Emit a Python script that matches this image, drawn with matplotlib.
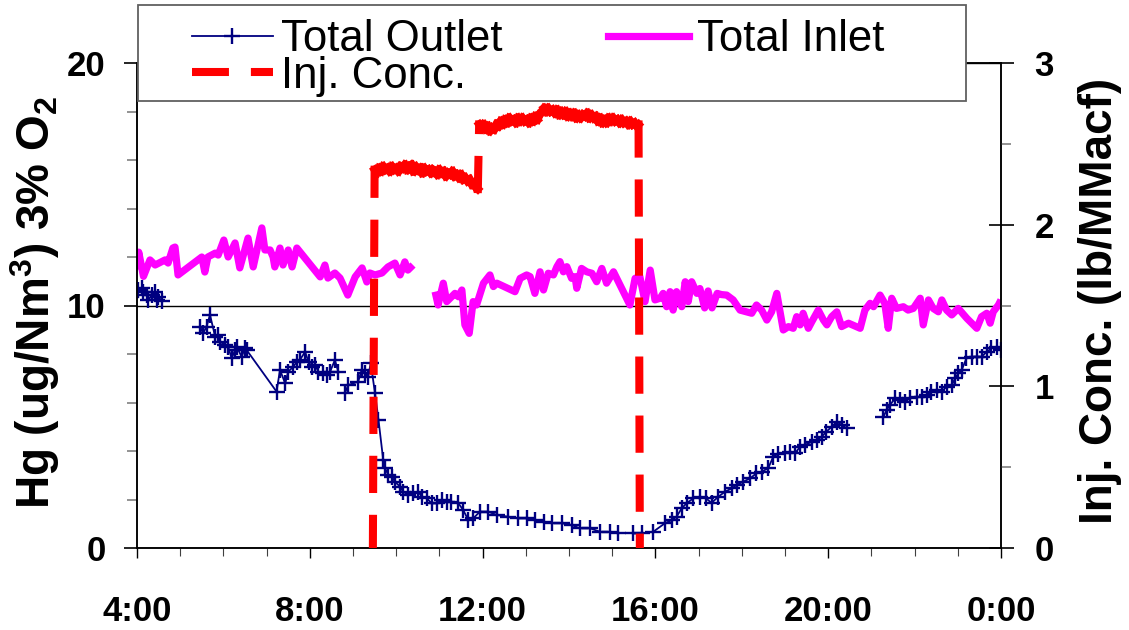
import numpy as np
import matplotlib
matplotlib.use("Agg")
import matplotlib.pyplot as plt
from matplotlib.collections import LineCollection
from matplotlib.lines import Line2D
from matplotlib.patches import Rectangle
from matplotlib.ticker import MultipleLocator

plt.rcParams['font.family'] = ['Liberation Sans', 'DejaVu Sans']
plt.rcParams['mathtext.fontset'] = 'custom'
plt.rcParams['mathtext.rm'] = 'Liberation Sans:bold'
plt.rcParams['mathtext.default'] = 'rm'
plt.rcParams['lines.scale_dashes'] = False

nan = float('nan')

# ---------------- data (hours since midnight; 24 = 0:00 next day) ----------------
x_ticks = [4, 8, 12, 16, 20, 24]
x_tick_labels = ['4:00', '8:00', '12:00', '16:00', '20:00', '0:00']

outlet_hours = [4.00, 4.03, 4.11, 4.15, 4.22, 4.26, 4.34, 4.42, 4.46, 4.49, 4.57, nan,
                5.46, 5.53, 5.61, 5.69, 5.81, 5.88, 5.92, 6.04, 6.11, 6.19, 6.27, 6.31, 6.42, 6.50, 6.54,
                7.23, 7.31, 7.43, 7.50, 7.62, 7.70, 7.77, 7.89, 7.97, 8.04, 8.12, 8.20, 8.31, 8.39, 8.47,
                8.58, 8.66, nan,
                8.81, 8.89, 9.12, 9.20, 9.28, 9.35, 9.41, 9.51, 9.59, 9.70, 9.74, 9.82, 9.90, 9.97, 10.09,
                10.16, 10.28, 10.40, 10.51, 10.59, 10.71, 10.82, 10.94, 11.05, 11.17, 11.28, 11.44, 11.55,
                11.67, 11.78, 11.94, 12.13, 12.33, 12.59, 12.83, 13.02, 13.21, 13.41, 13.60, 13.83, 14.06,
                14.25, 14.49, 14.72, 14.95, 15.14, nan,
                15.49, 15.68, 15.95, 16.22, 16.38, 16.49, 16.61, 16.72, 16.88, 17.03, 17.17, 17.30, 17.46,
                17.61, 17.77, 17.88, 18.03, 18.19, 18.34, 18.46, 18.61, 18.73, 18.84, 19.00, 19.11, 19.23,
                19.35, 19.46, 19.62, 19.73, 19.85, 19.96, 20.08, 20.20, 20.31, 20.43, nan,
                21.28, 21.35, 21.43, 21.55, 21.66, 21.78, 21.89, 22.05, 22.16, 22.28, 22.39, 22.51, 22.63,
                22.74, 22.86, 22.94, 23.01, 23.09, 23.20, 23.32, 23.44, 23.55, 23.67, 23.78, 23.90, 24.00]
outlet_values = [10.60, 10.64, 10.71, 10.57, 10.43, 10.23, 10.43, 10.57, 10.23, 10.36, 10.20, nan,
                 9.13, 8.85, 9.13, 9.61, 8.71, 8.78, 8.51, 8.37, 8.30, 7.82, 8.16, 8.30, 7.89, 8.23, 8.16,
                 6.45, 7.34, 6.79, 7.27, 7.48, 7.68, 7.75, 8.09, 7.68, 7.48, 7.55, 7.27, 7.20, 7.13, 7.27,
                 7.75, 7.27, nan,
                 6.38, 6.72, 6.86, 7.34, 7.20, 7.06, 7.62, 6.38, 5.28, 3.63, 3.29, 3.01, 2.94, 2.73, 2.53,
                 2.32, 2.19, 2.26, 2.32, 2.12, 2.05, 1.84, 1.84, 1.98, 1.91, 1.91, 1.84, 1.57,
                 1.15, 1.22, 1.50, 1.50, 1.36, 1.29, 1.22, 1.22, 1.15, 1.08, 1.02, 1.02, 0.95,
                 0.81, 0.81, 0.67, 0.67, 0.60, nan,
                 0.60, 0.60, 0.67, 1.02, 1.15, 1.29, 1.64, 1.84, 2.05, 2.10, 2.05, 1.86, 2.12,
                 2.32, 2.46, 2.60, 2.73, 2.87, 3.08, 3.15, 3.29, 3.77, 3.88, 3.93, 3.97, 3.90,
                 4.18, 4.25, 4.38, 4.45, 4.59, 4.80, 5.00, 5.21, 5.07, 4.94, nan,
                 5.41, 5.69, 5.90, 6.17, 6.10, 6.03, 6.17, 6.24, 6.24, 6.31, 6.45, 6.52, 6.45,
                 6.65, 6.72, 7.00, 7.20, 7.34, 7.82, 7.89, 7.89, 7.89, 8.09, 8.23, 8.30, 8.16]

inlet_hours = [4.00, 4.04, 4.15, 4.30, 4.42, 4.65, 4.72, 4.83, 4.88, 4.95, 5.50, 5.57, 5.64, 5.81, 5.88,
               6.01, 6.11, 6.27, 6.38, 6.57, 6.69, 6.89, 6.96, 7.08, 7.15, 7.19, 7.31, 7.38, 7.50, 7.59,
               7.70, 8.24, 8.35, 8.42, 8.58, 8.70, 8.88, 9.05, 9.21, 9.32, 9.39, 9.51, 9.67, 9.81, 9.97,
               10.09, 10.20, 10.27, 10.39, nan,
               10.90, 10.97, 11.09, 11.17, 11.36, 11.44, 11.52, 11.59, 11.69, 11.78, 11.86, 12.02, 12.17,
               12.25, 12.33, 12.75, 12.87, 13.02, 13.10, 13.21, 13.33, 13.41, 13.52, 13.64, 13.72, 13.79,
               13.87, 13.95, 14.06, 14.14, 14.18, 14.29, 14.41, 14.53, 14.64, 14.76, 14.87, 15.03, 15.41,
               15.53, 15.64, 15.76, 15.88, 15.99, 16.11, 16.18, 16.26, 16.34, 16.41, 16.49, 16.61, 16.69,
               16.76, 16.84, 16.96, 17.03, 17.14, 17.22, 17.31, 17.43, 17.53, 17.65, 17.80, 17.96, 18.11,
               18.23, 18.34, 18.46, 18.58, 18.69, 18.81, 18.96, 19.08, 19.19, 19.27, 19.35, 19.42, 19.54,
               19.62, 19.77, 19.89, 19.97, 20.08, 20.20, 20.31, 20.47, 20.74, 20.85, 20.97, 21.05, 21.20,
               21.31, 21.39, 21.47, 21.58, 21.74, 21.85, 21.97, 22.13, 22.20, 22.32, 22.43, 22.55, 22.63,
               22.74, 22.86, 23.01, 23.21, 23.44, 23.55, 23.67, 23.75, 23.82, 23.94, 24.00]
inlet_values = [11.50, 12.20, 11.20, 11.88, 11.67, 11.88, 11.75, 12.37, 12.41, 11.26, 12.00, 11.38, 12.00, 12.16, 12.08,
                12.70, 12.00, 12.58, 11.55, 12.78, 11.59, 13.20, 12.29, 12.29, 12.00, 11.59, 12.37, 11.67, 12.29, 11.59,
                12.37, 11.18, 11.67, 11.13, 11.34, 11.13, 10.43, 11.18, 11.55, 10.97, 11.34, 11.26, 11.34, 11.59, 11.75,
                11.26, 11.80, 11.46, 11.67, nan,
                10.57, 10.02, 10.92, 10.16, 10.50, 10.36, 10.64, 9.20, 8.85, 10.16, 10.02, 10.92, 11.26,
                10.78, 10.92, 10.57, 11.12, 11.26, 11.19, 10.50, 11.39, 10.64, 11.33, 11.26, 11.60, 11.81,
                11.39, 11.60, 11.12, 11.19, 10.71, 11.53, 11.39, 11.33, 10.98, 11.53, 10.92, 11.39, 10.02,
                11.12, 11.19, 10.16, 11.46, 10.23, 10.30, 10.50, 9.95, 10.57, 9.81, 10.57, 9.95, 10.98,
                10.16, 10.98, 10.50, 10.70, 9.90, 10.60, 9.90, 10.50, 10.45, 10.43, 10.23, 9.81, 9.74,
                9.68, 10.02, 9.81, 9.40, 9.74, 10.50, 8.99, 9.13, 9.06, 9.54, 9.20, 9.68, 9.06,
                9.33, 9.81, 9.40, 9.20, 9.54, 9.74, 9.13, 9.27, 9.06, 9.81, 10.09, 9.95, 10.43,
                10.09, 9.06, 10.30, 9.88, 9.95, 9.81, 9.88, 10.30, 9.20, 10.23, 9.88, 9.74, 10.23,
                9.81, 9.61, 9.88, 9.47, 9.06, 9.54, 9.68, 9.27, 9.74, 10.02, 10.23]

inj_hours = [9.46,
             9.50, 9.55, 9.60, 9.65, 9.70, 9.75, 9.80, 9.85, 9.90, 9.95, 10.00, 10.05, 10.10, 10.15,
             10.20, 10.25, 10.30, 10.35, 10.40, 10.45, 10.50, 10.55, 10.60, 10.65, 10.70, 10.75, 10.80,
             10.85, 10.90, 10.95, 11.00, 11.05, 11.10, 11.15, 11.20, 11.25, 11.30, 11.35, 11.40, 11.45,
             11.50, 11.55, 11.60, 11.65, 11.70, 11.75, 11.80, 11.85, 11.89,
             11.92, 11.97, 12.02, 12.07, 12.12, 12.17, 12.22, 12.27, 12.32, 12.37, 12.42, 12.47, 12.52,
             12.57, 12.62, 12.67, 12.72, 12.77, 12.82, 12.87, 12.92, 12.97, 13.02, 13.07, 13.12, 13.17,
             13.22, 13.27, 13.32, 13.37, 13.42, 13.47, 13.52, 13.57, 13.62, 13.67, 13.72, 13.77, 13.82,
             13.87, 13.92, 13.97, 14.02, 14.07, 14.12, 14.17, 14.22, 14.27, 14.32, 14.37, 14.42, 14.47,
             14.52, 14.57, 14.62, 14.67, 14.72, 14.77, 14.82, 14.87, 14.92, 14.97, 15.02, 15.07, 15.12,
             15.17, 15.22, 15.27, 15.32, 15.37, 15.42, 15.47, 15.52, 15.57, 15.61, 15.64]
inj_values = [0.0,
              2.34, 2.32, 2.35, 2.33, 2.36, 2.34, 2.35, 2.33, 2.36, 2.34, 2.35, 2.33, 2.36, 2.35,
              2.37, 2.34, 2.36, 2.37, 2.33, 2.36, 2.34, 2.35, 2.32, 2.35, 2.33, 2.34, 2.32,
              2.34, 2.33, 2.31, 2.34, 2.32, 2.33, 2.30, 2.32, 2.31, 2.33, 2.30, 2.31, 2.29,
              2.31, 2.28, 2.29, 2.27, 2.28, 2.25, 2.26, 2.23, 2.22,
              2.62, 2.60, 2.62, 2.59, 2.61, 2.58, 2.60, 2.59, 2.62, 2.61, 2.64, 2.62, 2.65,
              2.63, 2.66, 2.64, 2.65, 2.63, 2.66, 2.64, 2.66, 2.64, 2.65, 2.63, 2.66, 2.64,
              2.67, 2.65, 2.68, 2.70, 2.72, 2.70, 2.72, 2.70, 2.71, 2.69, 2.71, 2.68, 2.70,
              2.68, 2.70, 2.67, 2.69, 2.67, 2.69, 2.66, 2.68, 2.66, 2.68, 2.67, 2.69, 2.66,
              2.68, 2.66, 2.67, 2.64, 2.66, 2.63, 2.65, 2.63, 2.66, 2.64, 2.66, 2.64, 2.65,
              2.63, 2.65, 2.63, 2.64, 2.62, 2.64, 2.62, 2.63, 2.61, 2.62, 0.0]

# ---------------- figure ----------------
W, H = 1129, 630
fig = plt.figure(figsize=(W / 100, H / 100), dpi=100)
ax = fig.add_axes([137 / W, 82 / H, 864 / W, 485 / H])
ax2 = ax.twinx()

tick_font = dict(family=['Liberation Sans', 'DejaVu Sans'], weight='bold', size=25)

# Total Outlet
ax.plot(outlet_hours, outlet_values, color='#000080', lw=1.3, marker='+',
        markersize=12, markeredgewidth=1.7, zorder=3)
# Total Inlet
ax.plot(inlet_hours, inlet_values, color='#FF00FF', lw=5.2, solid_joinstyle='round',
        solid_capstyle='butt', zorder=2)

ax.set_xlim(4, 24)
ax.set_ylim(0, 20)
ax.set_xticks(x_ticks)
ax.set_xticklabels(x_tick_labels, fontdict=tick_font)
ax.xaxis.set_minor_locator(MultipleLocator(1))
ax.set_yticks([0, 10, 20])
ax.set_yticklabels(['0', '10', '20'], fontdict=tick_font)
ax.yaxis.set_minor_locator(MultipleLocator(2))
ax.yaxis.grid(True, which='major', color='black', lw=1.0)
ax.tick_params(axis='x', which='major', direction='out', length=7.5, width=1, pad=26)
ax.tick_params(axis='x', which='minor', direction='out', length=6, width=0.8, color='#404040')
ax.tick_params(axis='y', which='major', direction='out', length=9.5, width=1.2, pad=13)
ax.tick_params(axis='y', which='minor', direction='out', length=7, width=1.2, color='#808080')

# Inj. Conc. on secondary axis (dashes restart per segment, like the source)
pts = np.column_stack([inj_hours, inj_values])
segs = np.stack([pts[:-1], pts[1:]], axis=1)
lc = LineCollection(segs, colors='#FF0000', linewidths=5.8,
                    linestyles=[(0, (21.0, 21.5))], capstyle='projecting', zorder=4)
ax2.add_collection(lc)
ax2.set_ylim(0, 3)
ax2.set_yticks([0, 1, 2, 3])
ax2.set_yticklabels(['0', '1', '2', '3'], fontdict=tick_font)
ax2.yaxis.set_minor_locator(MultipleLocator(0.5))
ax2.tick_params(axis='y', which='major', direction='inout', length=18, width=1.2, pad=15)
ax2.tick_params(axis='y', which='minor', direction='out', length=7, width=1.2, color='#808080')

for a in (ax, ax2):
    for s in a.spines.values():
        s.set_linewidth(1.1)
        s.set_color('black')

# axis titles
fig.text(35 / W, 1 - 302 / H, 'Hg (ug/Nm$^{3}$) 3% O$_{2}$', rotation=90, ha='center', va='center',
         fontsize=33, fontweight='bold', family=['Liberation Sans', 'DejaVu Sans'])
fig.text(1100 / W, 1 - 301 / H, 'Inj. Conc. (lb/MMacf)', rotation=90, ha='center', va='center',
         fontsize=33, fontweight='bold', family=['Liberation Sans', 'DejaVu Sans'])

# legend box + legend
fig.add_artist(Rectangle((138 / W, 1 - 101 / H), 828 / W, 96 / H, transform=fig.transFigure,
                         facecolor='white', edgecolor='#606060', lw=1.3, zorder=3))
h_out = Line2D([0, 1, 2], [0, 0, 0], color='#000080', lw=1.3, marker='+', markersize=12,
               markeredgewidth=1.7, markevery=[1])
h_in = Line2D([], [], color='#FF00FF', lw=5.2)
h_inj = Line2D([], [], color='#FF0000', lw=5.8, dashes=(26.6, 15.8), dash_capstyle='butt')
leg = fig.legend([h_out, h_inj, h_in], ['Total Outlet', 'Inj. Conc.', 'Total Inlet'],
                 ncol=2, loc='upper left', bbox_to_anchor=(192 / W, 1 - 19 / H),
                 frameon=False, handlelength=1.85, handletextpad=0.19,
                 columnspacing=2.4, labelspacing=-0.1, borderpad=0, borderaxespad=0,
                 prop={'family': ['Liberation Sans', 'DejaVu Sans'], 'size': 31.5})
leg.set_zorder(5)

fig.savefig('out.png', dpi=100)
